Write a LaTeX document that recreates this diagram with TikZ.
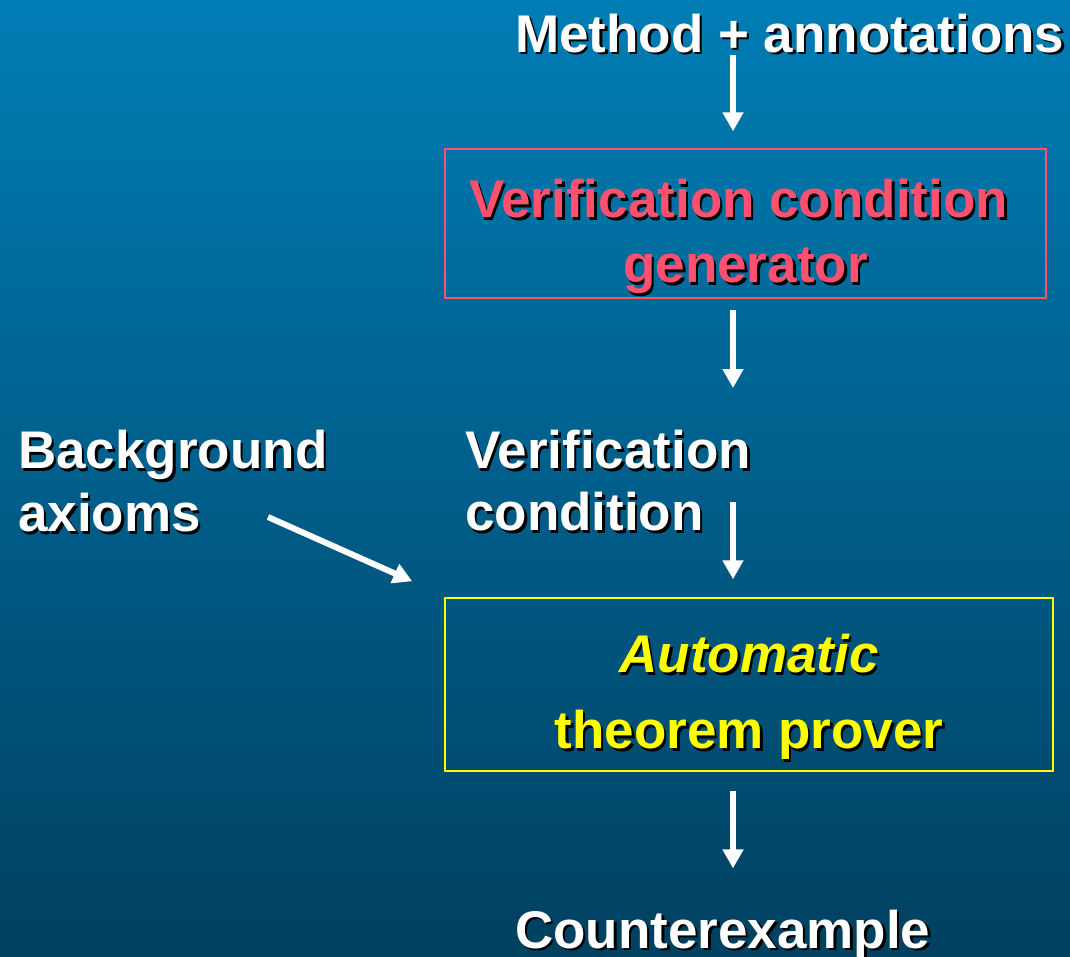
\documentclass[tikz,border=0pt]{standalone}
\usepackage{fontspec}
\setmainfont{Liberation Sans}
\usetikzlibrary{arrows.meta}

\definecolor{slidetop}{RGB}{0,125,181}
\definecolor{slidebot}{RGB}{0,64,96}
\definecolor{vcgpink}{RGB}{255,80,112}
\definecolor{atpyellow}{RGB}{255,255,0}

% text with a dark drop shadow
\newcommand{\shtxt}[1]{\leavevmode\rlap{\kern2.5pt\raisebox{-2.5pt}{\color{black}#1}}#1}

\begin{document}
\begin{tikzpicture}[x=1pt,y=-1pt,
  lbl/.style={text=white,inner sep=0pt,font=\fontsize{53}{64}\selectfont\bfseries},
  tool/.style={inner sep=0pt,line width=1.5pt,align=center},
  flow/.style={draw=white,line width=6pt,-{Triangle[width=20pt,length=19pt]}}]

  \shade[top color=slidetop,bottom color=slidebot] (0,0) rectangle (1070,956);
  \useasboundingbox (0,0) rectangle (1070,956);

  \node[lbl,anchor=base west] (method) at (515,52) {\shtxt{Method + annotations}};
  \node[lbl,tool,draw=vcgpink,text=vcgpink,minimum width=601pt,minimum height=149pt,
        font=\fontsize{53}{65}\selectfont\bfseries] (vcg) at (745.5,223.5)
        {\rule{0pt}{67pt}\shtxt{Verification condition}\hspace*{14pt}\\\shtxt{generator}};
  \node[lbl,anchor=north west,align=left,font=\fontsize{53}{62}\selectfont\bfseries] (vc) at (465,430)
        {\shtxt{Verification}\\\shtxt{condition}};
  \node[lbl,anchor=north west,align=left,font=\fontsize{53}{63}\selectfont\bfseries] (bg) at (18,430)
        {\shtxt{Background}\\\shtxt{axioms}};
  \node[lbl,tool,draw=atpyellow,text=atpyellow,minimum width=608pt,minimum height=173pt,
        font=\fontsize{53}{76}\selectfont\bfseries] (atp) at (749,684.5)
        {\rule{0pt}{66pt}\shtxt{\textit{Automatic}}\\\shtxt{theorem prover}};
  \node[lbl,anchor=base west] (cex) at (515,948) {\shtxt{Counterexample}};

  \coordinate (ax) at (733,0);
  \coordinate (bgtail) at (268,517);

  \draw[flow] (ax |- method.south) -- (ax |- vcg.north) [shorten >=17pt];
  \draw[flow,shorten <=11pt,shorten >=42pt] (ax |- vcg.south) -- (ax |- vc.north);
  \draw[flow,shorten <=72pt,shorten >=18pt] (ax |- vc.north) -- (ax |- atp.north);
  \draw[flow] (bgtail) -- ([xshift=-32pt,yshift=16pt]atp.north west);
  \draw[flow,shorten <=19pt,shorten >=41pt] (ax |- atp.south) -- (ax |- cex.north);

\end{tikzpicture}
\end{document}
